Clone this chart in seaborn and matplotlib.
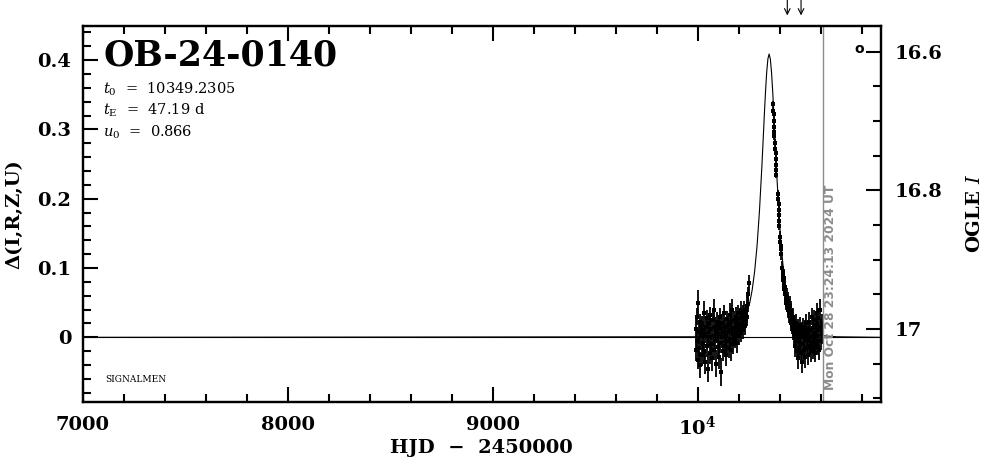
import matplotlib
matplotlib.use("Agg")
import pandas as pd
import matplotlib.pyplot as plt
import seaborn as sns
from matplotlib.ticker import FixedLocator, MultipleLocator
from matplotlib.transforms import blended_transform_factory

# Parametry zdarzenia
event_name = "OB-24-0140"
t0 = 10349.2305
tE = 47.19
u0 = 0.866
i_base = 17.012          # jasnosc bazowa OGLE I (Delta = 0)
now_hjd = 10612.47       # Mon Oct 28 23:24:13 2024 UT
now_label = "Mon Oct 28 23:24:13 2024 UT"
arrow_hjd = [10438, 10505]

# Krzywa modelu
model_hjd = [7000, 10018.90, 10113.28, 10160.47, 10207.66, 10231.25, 10254.85,
             10266.65, 10278.44, 10290.24, 10302.04, 10313.84, 10319.74, 10325.63,
             10331.53, 10337.43, 10343.33, 10349.23, 10355.13, 10361.03, 10366.93,
             10372.83, 10378.72, 10384.62, 10396.42, 10408.22, 10420.02, 10431.81,
             10443.61, 10467.21, 10490.80, 10537.99, 10585.18, 10679.56, 10895]
model_dmag = [0.0, 0.0008, 0.0028, 0.0062, 0.0160, 0.0275, 0.0499,
              0.0684, 0.0947, 0.1314, 0.1817, 0.2462, 0.2823, 0.3191,
              0.3537, 0.3825, 0.4018, 0.4087, 0.4018, 0.3825, 0.3537,
              0.3191, 0.2823, 0.2462, 0.1817, 0.1314, 0.0947, 0.0684,
              0.0499, 0.0275, 0.0160, 0.0062, 0.0028, 0.0008, 0.0]

# Sezon 1 - pomiary OGLE
s1_hjd = [9990.6, 9992.9, 9995.8, 9998.4, 10001.1, 10003.7, 10006.5, 10009.0, 10011.8, 10014.3,
          10017.2, 10019.6, 10022.5, 10025.1, 10027.8, 10030.4, 10033.3, 10035.7, 10038.6, 10041.2,
          10043.9, 10046.5, 10049.4, 10051.8, 10054.7, 10057.3, 10060.0, 10062.6, 10065.5, 10067.9,
          10070.8, 10073.4, 10076.1, 10078.7, 10081.6, 10084.0, 10086.9, 10089.5, 10092.2, 10094.8,
          10097.7, 10100.1, 10103.0, 10105.6, 10108.3, 10110.9, 10113.8, 10116.2, 10119.1, 10121.7,
          10124.4, 10127.0, 10129.9, 10132.3, 10135.2, 10137.8, 10140.5, 10143.1, 10146.0, 10148.4,
          10151.3, 10153.9, 10156.6, 10159.2, 10162.1, 10164.5, 10167.4, 10170.0, 10172.7, 10175.3,
          10178.2, 10180.6, 10183.5, 10186.1, 10188.8, 10191.4, 10194.3, 10196.7, 10199.6, 10202.2,
          10204.9, 10207.5, 10210.4, 10212.8, 10215.7, 10218.3, 10221.0, 10223.6, 10226.5, 10228.9,
          10231.8, 10234.4, 10237.1, 10239.7, 10242.6, 10245.0, 10247.9, 10250.5]
s1_dmag = [0.012, -0.018, 0.030, -0.005, 0.050, -0.032, 0.008, -0.015, 0.022, -0.040,
           0.003, 0.018, -0.025, 0.010, -0.008, 0.035, -0.020, 0.005, -0.035, 0.015,
           0.028, -0.012, 0.000, -0.045, 0.020, 0.007, -0.022, 0.032, -0.010, 0.012,
           -0.030, 0.025, 0.002, -0.018, 0.040, -0.005, 0.015, -0.038, 0.010, 0.022,
           -0.014, 0.005, -0.028, 0.018, 0.030, -0.008, 0.012, -0.050, 0.000, 0.020,
           -0.020, 0.008, 0.035, -0.012, 0.015, -0.025, 0.004, 0.026, -0.006, 0.018,
           -0.015, 0.010, 0.032, -0.002, 0.022, -0.018, 0.012, 0.040, 0.005, -0.010,
           0.025, 0.014, -0.004, 0.030, 0.008, 0.020, -0.008, 0.035, 0.016, 0.002,
           0.028, 0.012, 0.038, 0.006, 0.024, 0.015, 0.032, 0.010, 0.028, 0.040,
           0.018, 0.034, 0.025, 0.045, 0.030, 0.048, 0.062, 0.078]
s1_err = [0.014, 0.016, 0.012, 0.015, 0.018, 0.013, 0.017, 0.014, 0.012, 0.019,
          0.015, 0.013, 0.016, 0.014, 0.012, 0.017, 0.015, 0.013, 0.018, 0.014,
          0.012, 0.016, 0.014, 0.020, 0.013, 0.015, 0.017, 0.012, 0.014, 0.016,
          0.018, 0.013, 0.015, 0.014, 0.016, 0.012, 0.015, 0.019, 0.013, 0.014,
          0.016, 0.012, 0.017, 0.014, 0.013, 0.015, 0.012, 0.020, 0.016, 0.013,
          0.014, 0.016, 0.012, 0.015, 0.013, 0.017, 0.014, 0.012, 0.016, 0.013,
          0.015, 0.013, 0.017, 0.012, 0.014, 0.016, 0.013, 0.015, 0.012, 0.014,
          0.013, 0.015, 0.012, 0.014, 0.016, 0.013, 0.015, 0.012, 0.014, 0.013,
          0.015, 0.012, 0.014, 0.013, 0.016, 0.012, 0.014, 0.013, 0.015, 0.012,
          0.014, 0.013, 0.012, 0.015, 0.013, 0.012, 0.011, 0.012]

# Sezon 2 - pomiary OGLE
s2_hjd = [10369.8, 10370.6, 10371.4, 10372.1, 10372.9, 10373.6, 10374.4,
          10379.2, 10380.0, 10380.8, 10381.6, 10382.4, 10383.3, 10384.1,
          10393.0, 10394.0, 10395.1, 10396.2, 10397.3, 10398.4, 10399.5,
          10403.0, 10404.1, 10405.0, 10406.2, 10407.1,
          10414.5, 10416.0, 10417.4, 10419.0, 10420.5, 10422.1, 10424.0, 10426.2, 10428.5,
          10431.0, 10433.2, 10436.0, 10438.4,
          10441.0, 10443.5, 10446.1, 10448.7, 10451.0, 10453.6, 10456.0, 10458.4, 10461.0, 10463.3,
          10465.9, 10468.2, 10470.6, 10473.1, 10475.5, 10478.0, 10480.4, 10482.9, 10485.3, 10487.8,
          10490.1, 10492.6, 10495.0, 10497.5, 10500.0, 10502.4, 10505.0, 10507.5, 10510.1, 10512.6,
          10515.2, 10517.8, 10520.3, 10522.9, 10525.4, 10528.0, 10530.6, 10533.1, 10535.7, 10538.3,
          10540.8, 10543.4, 10546.0, 10548.5, 10551.1, 10553.7, 10556.2, 10558.8, 10561.4, 10564.0,
          10566.5, 10569.1, 10571.7, 10574.2, 10576.8, 10579.4, 10582.0, 10584.5, 10587.1, 10589.7,
          10592.3, 10594.8, 10597.4, 10600.0, 10602.5, 10605.1, 10607.6]
s2_dmag = [0.336, 0.327, 0.322, 0.312, 0.304, 0.296, 0.290,
           0.281, 0.272, 0.266, 0.258, 0.249, 0.241, 0.234,
           0.207, 0.199, 0.192, 0.184, 0.176, 0.168, 0.161,
           0.145, 0.138, 0.132, 0.127, 0.120,
           0.100, 0.094, 0.088, 0.082, 0.086, 0.074, 0.070, 0.063, 0.072,
           0.056, 0.050, 0.058, 0.046,
           0.040, 0.052, 0.034, 0.030, 0.045, 0.022, 0.028, 0.038, 0.018, 0.024,
           0.010, 0.030, 0.005, 0.015, -0.012, 0.020, -0.005, 0.008, -0.020, 0.012,
           -0.030, 0.002, -0.015, 0.018, -0.008, -0.022, 0.006, -0.035, 0.010, -0.010,
           0.015, -0.018, 0.004, -0.028, 0.012, -0.004, 0.020, -0.015, 0.003, -0.025,
           0.008, -0.006, 0.022, -0.012, 0.010, -0.020, 0.030, 0.000, -0.016, 0.014,
           -0.008, 0.025, -0.022, 0.006, 0.018, -0.010, 0.035, 0.004, -0.014, 0.028,
           0.010, -0.018, 0.040, 0.015, -0.005, 0.020, 0.005]
s2_err = [0.005, 0.004, 0.005, 0.004, 0.005, 0.004, 0.005,
          0.005, 0.004, 0.005, 0.005, 0.004, 0.005, 0.004,
          0.005, 0.006, 0.005, 0.005, 0.006, 0.005, 0.006,
          0.008, 0.007, 0.008, 0.009, 0.008,
          0.010, 0.009, 0.011, 0.010, 0.012, 0.010, 0.011, 0.009, 0.012,
          0.010, 0.011, 0.013, 0.010,
          0.012, 0.014, 0.013, 0.012, 0.015, 0.013, 0.012, 0.014, 0.013, 0.015,
          0.014, 0.013, 0.015, 0.012, 0.016, 0.014, 0.013, 0.015, 0.012, 0.014,
          0.016, 0.013, 0.014, 0.012, 0.015, 0.013, 0.014, 0.016, 0.012, 0.015,
          0.013, 0.014, 0.012, 0.016, 0.013, 0.015, 0.014, 0.012, 0.013, 0.015,
          0.014, 0.012, 0.015, 0.013, 0.014, 0.016, 0.012, 0.013, 0.015, 0.014,
          0.013, 0.015, 0.014, 0.012, 0.016, 0.013, 0.014, 0.015, 0.012, 0.014,
          0.013, 0.015, 0.016, 0.012, 0.014, 0.013, 0.015]

# Osie
xticks = [7000, 8000, 9000, 10000]
xtick_labels = ["7000", "8000", "9000", r"$\mathbf{10^{4}}$"]
yticks = [0.0, 0.1, 0.2, 0.3, 0.4]
ytick_labels = ["0", "0.1", "0.2", "0.3", "0.4"]
itick = [16.6, 16.8, 17.0]
itick_labels = ["16.6", "16.8", "17"]
xlim = (7000, 10895)
ylim = (-0.0929, 0.4496)

sns.set_style("white")
plt.rcParams["font.family"] = ["DejaVu Serif"]
plt.rcParams["mathtext.fontset"] = "dejavuserif"
plt.rcParams["text.color"] = "black"
plt.rcParams["axes.labelcolor"] = "black"
plt.rcParams["xtick.color"] = "black"
plt.rcParams["ytick.color"] = "black"

fig, ax = plt.subplots(figsize=(9.86, 4.59), dpi=100)
fig.subplots_adjust(left=0.0837, right=0.8935, bottom=0.1248, top=0.944)

obs = pd.DataFrame({"hjd": s1_hjd + s2_hjd,
                    "dmag": s1_dmag + s2_dmag,
                    "err": s1_err + s2_err})
model = pd.DataFrame({"hjd": model_hjd, "dmag": model_dmag})

ax.axhline(0, color="black", lw=0.8)
sns.lineplot(data=model, x="hjd", y="dmag", color="black", lw=0.8,
             estimator=None, ax=ax)
ax.errorbar(obs["hjd"], obs["dmag"], yerr=obs["err"], fmt="none",
            ecolor="black", elinewidth=1.3)
sns.scatterplot(data=obs, x="hjd", y="dmag", color="black", marker="s",
                s=9, linewidth=0, ax=ax)

# Aktualna data
ax.axvline(now_hjd, color="#8c8c8c", lw=1)
trans = blended_transform_factory(ax.transData, ax.transAxes)
ax.text(now_hjd + 34, 0.03, now_label, rotation=90, ha="center", va="bottom",
        color="#8c8c8c", fontsize=8.8, fontweight="bold", family="DejaVu Sans",
        transform=trans)

for t in arrow_hjd:
    ax.annotate("", xy=(t, 1.02), xycoords=trans, xytext=(t, 1.075),
                textcoords=trans,
                arrowprops=dict(arrowstyle="->", lw=0.8, color="black",
                                mutation_scale=10))

# Opisy
ax.text(0.0257, 0.893, event_name, transform=ax.transAxes, fontsize=25,
        fontweight="bold", va="baseline")
ax.text(0.0257, 0.820, r"$t_0$  =  %.4f" % t0, transform=ax.transAxes,
        fontsize=10.5, va="baseline")
ax.text(0.0257, 0.7625, r"$t_{\rm E}$  =  %.2f d" % tE, transform=ax.transAxes,
        fontsize=10.5, va="baseline")
ax.text(0.0257, 0.705, r"$u_0$  =  %.3f" % u0, transform=ax.transAxes,
        fontsize=10.5, va="baseline")
ax.text(0.028, 0.053, "SIGNALMEN", transform=ax.transAxes, fontsize=6.5,
        va="baseline")
ax.text(0.9725, 0.938, "o", transform=ax.transAxes, fontsize=10,
        fontweight="bold", family="DejaVu Sans", ha="center", va="center")

ax.set_xlim(*xlim)
ax.set_ylim(*ylim)
ax.xaxis.set_major_locator(FixedLocator(xticks))
ax.set_xticklabels(xtick_labels, fontsize=14, fontweight="bold")
ax.xaxis.set_minor_locator(MultipleLocator(200))
ax.yaxis.set_major_locator(FixedLocator(yticks))
ax.set_yticklabels(ytick_labels, fontsize=14, fontweight="bold")
ax.yaxis.set_minor_locator(MultipleLocator(0.02))
ax.tick_params(axis="x", which="both", direction="in", top=True, bottom=True,
               pad=10)
ax.tick_params(axis="y", which="both", direction="in", left=True, right=False,
               pad=8)
ax.tick_params(which="major", length=11, width=1.5, color="black")
ax.tick_params(which="minor", length=5.5, width=1.5, color="black")
ax.set_xlabel("HJD  \u2212  2450000", fontsize=14, fontweight="bold")
ax.set_ylabel("\u0394(I,R,Z,U)", fontsize=14, fontweight="bold")
ax.xaxis.set_label_coords(0.5, -0.1)
ax.yaxis.set_label_coords(-0.074, 0.5)

# Prawa os - jasnosc OGLE I
ax2 = ax.twinx()
ax2.set_ylim(i_base - ylim[0], i_base - ylim[1])
ax2.yaxis.set_major_locator(FixedLocator(itick))
ax2.set_yticklabels(itick_labels, fontsize=14, fontweight="bold")
ax2.yaxis.set_minor_locator(MultipleLocator(0.05))
ax2.tick_params(axis="y", which="both", direction="in", left=False, right=True,
                pad=10)
ax2.tick_params(which="major", length=11, width=1.5)
ax2.tick_params(which="minor", length=5.5, width=1.5)
ax2.set_ylabel(r"OGLE $\mathit{I}$", fontsize=14, fontweight="bold")
ax2.yaxis.set_label_coords(1.107, 0.5)

for a in (ax, ax2):
    for s in a.spines.values():
        s.set_linewidth(1.6)
        s.set_color("black")

fig.savefig("out.png", dpi=100)
